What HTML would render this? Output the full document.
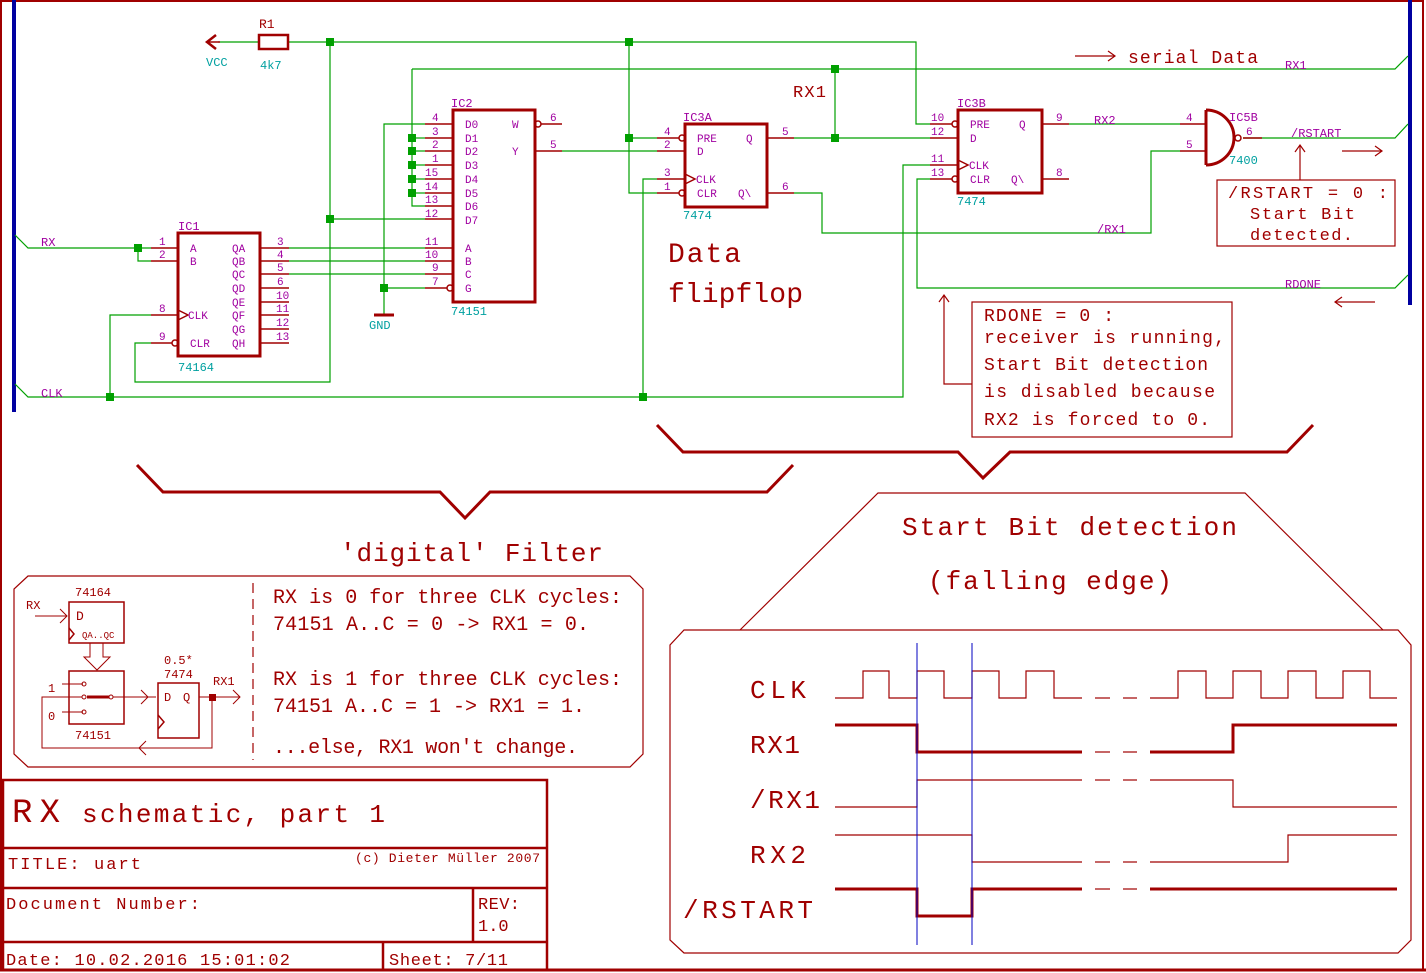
<!DOCTYPE html>
<html><head><meta charset="utf-8"><style>
html,body{margin:0;padding:0;background:#fff;}
svg{display:block;}
text{font-family:"Liberation Mono",monospace;}
.r{fill:#a00000}.m{fill:#a000a0}.t{fill:#00a0a0}
</style></head><body>
<svg width="1426" height="973" viewBox="0 0 1426 973" xmlns="http://www.w3.org/2000/svg">
<rect x="1" y="1" width="1422" height="969" fill="none" stroke="#a00000" stroke-width="2"/>
<line x1="0" y1="970" x2="1426" y2="970" stroke="#a00000" stroke-width="3"/>
<line x1="14" y1="0" x2="14" y2="412" stroke="#0000a0" stroke-width="4"/>
<line x1="1410" y1="0" x2="1410" y2="305" stroke="#0000a0" stroke-width="4"/>

<g stroke="#00a000" stroke-width="1.2" fill="none">
<polyline points="218,42 258,42"/>
<polyline points="288,42 916,42 916,124 930,124"/>
<polyline points="330,42 330,382 135,382 135,343 151,343"/>
<polyline points="330,219 425,219"/>
<polyline points="629,42 629,193 657,193"/>
<polyline points="629,138 657,138"/>
<polyline points="412,69 1395,69 1408,56"/>
<polyline points="412,69 412,206 425,206"/>
<polyline points="412,138 425,138"/><polyline points="412,151 425,151"/><polyline points="412,165 425,165"/><polyline points="412,179 425,179"/><polyline points="412,193 425,193"/>
<polyline points="425,124 384,124 384,315"/>
<polyline points="384,288 425,288"/>
<polyline points="835,69 835,138"/>
<polyline points="15,235 28,248 151,248"/>
<polyline points="138,248 138,261 151,261"/>
<polyline points="289,248 425,248"/><polyline points="289,261 425,261"/><polyline points="289,274 425,274"/>
<polyline points="15,384 28,397 903,397 903,165 930,165"/>
<polyline points="110,397 110,315 151,315"/>
<polyline points="643,397 643,179 657,179"/>
<polyline points="562,151 657,151"/>
<polyline points="794,138 930,138"/>
<polyline points="930,179 917,179 917,288 1395,288 1408,275"/>
<polyline points="1069,124 1180,124"/>
<polyline points="1180,151 1151,151 1151,233 822,233 822,193 794,193"/>
<polyline points="1243,138 1395,138 1408,124"/>
</g>
<g fill="#00a000">
<rect x="326" y="38" width="8" height="8"/><rect x="625" y="38" width="8" height="8"/>
<rect x="326" y="215" width="8" height="8"/><rect x="831" y="65" width="8" height="8"/>
<rect x="831" y="134" width="8" height="8"/><rect x="625" y="134" width="8" height="8"/>
<rect x="408" y="134" width="8" height="8"/><rect x="408" y="147" width="8" height="8"/><rect x="408" y="161" width="8" height="8"/><rect x="408" y="175" width="8" height="8"/><rect x="408" y="189" width="8" height="8"/>
<rect x="380" y="284" width="8" height="8"/><rect x="134" y="244" width="8" height="8"/>
<rect x="106" y="393" width="8" height="8"/><rect x="639" y="393" width="8" height="8"/>
</g>

<g stroke="#a00000" fill="none">
<polyline points="216,35 207,42 216,49" stroke-width="2.5"/>
<line x1="207" y1="42" x2="220" y2="42" stroke-width="1.5"/>
<rect x="259" y="35" width="29" height="14" stroke-width="2.5"/>
<rect x="178" y="233" width="82" height="123" stroke-width="3"/>
<rect x="453" y="110" width="82" height="192" stroke-width="3"/>
<rect x="685" y="124" width="82" height="83" stroke-width="3"/>
<rect x="958" y="110" width="84" height="83" stroke-width="3"/>
<path d="M1206,110 L1206,165 M1206,110 A28,27.5 0 0 1 1206,165" stroke-width="3"/>
<line x1="374" y1="315" x2="394" y2="315" stroke-width="3"/>
<g stroke-width="1.5">
<line x1="151" y1="248" x2="178" y2="248"/><line x1="151" y1="261" x2="178" y2="261"/><line x1="151" y1="315" x2="178" y2="315"/><line x1="151" y1="343" x2="172" y2="343"/>
<line x1="260" y1="248" x2="289" y2="248"/><line x1="260" y1="261" x2="289" y2="261"/><line x1="260" y1="274" x2="289" y2="274"/><line x1="260" y1="288" x2="289" y2="288"/><line x1="260" y1="302" x2="289" y2="302"/><line x1="260" y1="315" x2="289" y2="315"/><line x1="260" y1="329" x2="289" y2="329"/><line x1="260" y1="343" x2="289" y2="343"/>
<line x1="425" y1="124" x2="453" y2="124"/><line x1="425" y1="138" x2="453" y2="138"/><line x1="425" y1="151" x2="453" y2="151"/><line x1="425" y1="165" x2="453" y2="165"/><line x1="425" y1="179" x2="453" y2="179"/><line x1="425" y1="193" x2="453" y2="193"/><line x1="425" y1="206" x2="453" y2="206"/><line x1="425" y1="219" x2="453" y2="219"/>
<line x1="425" y1="248" x2="453" y2="248"/><line x1="425" y1="261" x2="453" y2="261"/><line x1="425" y1="274" x2="453" y2="274"/><line x1="425" y1="288" x2="447" y2="288"/>
<line x1="541" y1="124" x2="562" y2="124"/><line x1="535" y1="151" x2="562" y2="151"/>
<line x1="657" y1="138" x2="679" y2="138"/><line x1="657" y1="151" x2="685" y2="151"/><line x1="657" y1="179" x2="685" y2="179"/><line x1="657" y1="193" x2="679" y2="193"/>
<line x1="767" y1="138" x2="794" y2="138"/><line x1="767" y1="193" x2="794" y2="193"/>
<line x1="930" y1="124" x2="952" y2="124"/><line x1="930" y1="138" x2="958" y2="138"/><line x1="930" y1="165" x2="958" y2="165"/><line x1="930" y1="179" x2="952" y2="179"/>
<line x1="1042" y1="124" x2="1069" y2="124"/><line x1="1042" y1="179" x2="1069" y2="179"/>
<line x1="1180" y1="124" x2="1206" y2="124"/><line x1="1180" y1="151" x2="1206" y2="151"/><line x1="1243" y1="138" x2="1262" y2="138"/>
<circle cx="175" cy="343" r="3"/><circle cx="450" cy="288" r="3"/><circle cx="538" cy="124" r="3"/>
<circle cx="682" cy="138" r="3"/><circle cx="682" cy="193" r="3"/><circle cx="955" cy="124" r="3"/><circle cx="955" cy="179" r="3"/><circle cx="1238" cy="138" r="3"/>
<polyline points="178,310 188,315 178,320"/><polyline points="685,174 695,179 685,184"/><polyline points="958,160 968,165 958,170"/>
</g>
<g stroke-width="1.2">
<line x1="1075" y1="56" x2="1115" y2="56"/><polyline points="1108,51 1115,56 1108,61"/>
<line x1="1342" y1="151" x2="1382" y2="151"/><polyline points="1375,146 1382,151 1375,156"/>
<line x1="1335" y1="302" x2="1375" y2="302"/><polyline points="1342,297 1335,302 1342,307"/>
<line x1="1300" y1="180" x2="1300" y2="145"/><polyline points="1295,152 1300,145 1305,152"/>
<rect x="1217" y="180" width="178" height="66"/>
<rect x="972" y="302" width="260" height="135"/>
<polyline points="972,384 944,384 944,295"/><polyline points="939,302 944,295 949,302"/>
</g>
<polyline points="137,465 163,492 440,492 465,518 490,492 767,492 793,465" stroke-width="3"/>
<polyline points="657,425 683,452 958,452 983,478 1010,452 1287,452 1313,425" stroke-width="3"/>
<polyline points="740,630 878,493 1245,493 1383,630" stroke-width="1.2"/>
<polygon points="684,630 1398,630 1411,645 1411,940 1398,953 684,953 670,940 670,645" stroke-width="1.2"/>
<polygon points="28,576 630,576 643,589 643,754 630,767 28,767 14,754 14,589" stroke-width="1.2"/>
<line x1="253" y1="583" x2="253" y2="760" stroke-width="1.2" stroke-dasharray="10,6"/>
</g>

<g font-size="12">
<text x="259" y="28" class="r" font-size="13">R1</text>
<text x="206" y="66" class="t">VCC</text><text x="260" y="69" class="t">4k7</text>
<text x="178" y="230" class="m">IC1</text><text x="178" y="371" class="t">74164</text>
<text x="451" y="107" class="m">IC2</text><text x="451" y="315" class="t">74151</text>
<text x="683" y="121" class="m">IC3A</text><text x="683" y="219" class="t">7474</text>
<text x="957" y="107" class="m">IC3B</text><text x="957" y="205" class="t">7474</text>
<text x="1229" y="121" class="m">IC5B</text><text x="1229" y="164" class="t">7400</text>
<text x="369" y="329" class="t">GND</text>
</g>
<g font-size="11" class="m">
<text x="190" y="252">A</text><text x="190" y="265">B</text><text x="188" y="319">CLK</text><text x="190" y="347">CLR</text>
<text x="232" y="252">QA</text><text x="232" y="265">QB</text><text x="232" y="278">QC</text><text x="232" y="292">QD</text><text x="232" y="306">QE</text><text x="232" y="319">QF</text><text x="232" y="333">QG</text><text x="232" y="347">QH</text>
<text x="159" y="245">1</text><text x="159" y="258">2</text><text x="159" y="312">8</text><text x="159" y="340">9</text>
<text x="277" y="245">3</text><text x="277" y="258">4</text><text x="277" y="271">5</text><text x="277" y="285">6</text><text x="276" y="299">10</text><text x="276" y="312">11</text><text x="276" y="326">12</text><text x="276" y="340">13</text>
<text x="465" y="128">D0</text><text x="465" y="142">D1</text><text x="465" y="155">D2</text><text x="465" y="169">D3</text><text x="465" y="183">D4</text><text x="465" y="197">D5</text><text x="465" y="210">D6</text><text x="465" y="224">D7</text>
<text x="465" y="252">A</text><text x="465" y="265">B</text><text x="465" y="278">C</text><text x="465" y="292">G</text>
<text x="512" y="128">W</text><text x="512" y="155">Y</text>
<text x="432" y="121">4</text><text x="432" y="135">3</text><text x="432" y="148">2</text><text x="432" y="162">1</text><text x="425" y="176">15</text><text x="425" y="190">14</text><text x="425" y="203">13</text><text x="425" y="217">12</text>
<text x="425" y="245">11</text><text x="425" y="258">10</text><text x="432" y="271">9</text><text x="432" y="285">7</text>
<text x="550" y="121">6</text><text x="550" y="148">5</text>
<text x="697" y="142">PRE</text><text x="697" y="155">D</text><text x="696" y="183">CLK</text><text x="697" y="197">CLR</text><text x="746" y="142">Q</text><text x="738" y="197">Q\</text>
<text x="664" y="135">4</text><text x="664" y="148">2</text><text x="664" y="176">3</text><text x="664" y="190">1</text><text x="782" y="135">5</text><text x="782" y="190">6</text>
<text x="970" y="128">PRE</text><text x="970" y="142">D</text><text x="969" y="169">CLK</text><text x="970" y="183">CLR</text><text x="1019" y="128">Q</text><text x="1011" y="183">Q\</text>
<text x="931" y="121">10</text><text x="931" y="135">12</text><text x="931" y="162">11</text><text x="931" y="176">13</text><text x="1056" y="121">9</text><text x="1056" y="176">8</text>
<text x="1186" y="121">4</text><text x="1186" y="148">5</text><text x="1246" y="135">6</text>
<text x="41" y="246" font-size="12">RX</text><text x="41" y="397" font-size="12">CLK</text>
<text x="1094" y="124" font-size="12">RX2</text><text x="1291" y="137" font-size="12">/RSTART</text><text x="1097" y="233" font-size="12">/RX1</text>
<text x="1285" y="69" font-size="12">RX1</text><text x="1285" y="288" font-size="12">RDONE</text>
</g>

<g class="r">
<text x="793" y="97" font-size="17" textLength="33">RX1</text>
<text x="1128" y="63" font-size="18" textLength="130">serial Data</text>
<text x="1228" y="198" font-size="17" textLength="160">/RSTART = 0 :</text>
<text x="1250" y="219" font-size="17" textLength="105">Start Bit</text>
<text x="1250" y="240" font-size="17" textLength="103">detected.</text>
<text x="984" y="321" font-size="18" textLength="130">RDONE = 0 :</text>
<text x="984" y="343" font-size="18" textLength="241">receiver is running,</text>
<text x="984" y="370" font-size="18" textLength="224">Start Bit detection</text>
<text x="984" y="397" font-size="18" textLength="231">is disabled because</text>
<text x="984" y="425" font-size="18" textLength="226">RX2 is forced to 0.</text>
<text x="668" y="262" font-size="28" textLength="73">Data</text>
<text x="668" y="302" font-size="28" textLength="135">flipflop</text>
<text x="340" y="561" font-size="26" textLength="263">'digital' Filter</text>
<text x="902" y="535" font-size="26" textLength="335">Start Bit detection</text>
<text x="928" y="589" font-size="26" textLength="244">(falling edge)</text>
<g font-size="20">
<text x="273" y="603" textLength="349">RX is 0 for three CLK cycles:</text>
<text x="273" y="630" textLength="316">74151 A..C = 0 -&gt; RX1 = 0.</text>
<text x="273" y="685" textLength="349">RX is 1 for three CLK cycles:</text>
<text x="273" y="712" textLength="312">74151 A..C = 1 -&gt; RX1 = 1.</text>
<text x="273" y="753" textLength="305">...else, RX1 won't change.</text>
</g>
<g font-size="26">
<text x="750" y="698" textLength="56">CLK</text><text x="750" y="753" textLength="50">RX1</text><text x="750" y="808" textLength="70">/RX1</text><text x="750" y="863" textLength="56">RX2</text><text x="683" y="918" textLength="130">/RSTART</text>
</g>
</g>

<g fill="none" stroke="#a00000">
<polyline stroke-width="1.2" points="835,698 863,698 863,671 889,671 889,698 917,698 917,671 944,671 944,698 972,698 972,671 999,671 999,698 1026,698 1026,671 1054,671 1054,698 1082,698"/>
<polyline stroke-width="1.2" points="1150,698 1178,698 1178,671 1206,671 1206,698 1233,698 1233,671 1261,671 1261,698 1288,698 1288,671 1316,671 1316,698 1343,698 1343,671 1370,671 1370,698 1397,698"/>
<polyline stroke-width="3" points="835,725 917,725 917,752 1082,752"/>
<polyline stroke-width="3" points="1150,752 1233,752 1233,725 1397,725"/>
<polyline stroke-width="1.2" points="835,807 917,807 917,780 1082,780"/>
<polyline stroke-width="1.2" points="1150,780 1233,780 1233,807 1397,807"/>
<polyline stroke-width="1.2" points="835,835 972,835 972,862 1082,862"/>
<polyline stroke-width="1.2" points="1150,862 1288,862 1288,835 1397,835"/>
<polyline stroke-width="3" points="835,889 917,889 917,916 972,916 972,889 1082,889"/>
<line x1="1150" y1="889" x2="1397" y2="889" stroke-width="3"/>
<g stroke-width="1.2">
<line x1="1095" y1="698" x2="1110" y2="698"/><line x1="1123" y1="698" x2="1137" y2="698"/>
<line x1="1095" y1="752" x2="1110" y2="752"/><line x1="1123" y1="752" x2="1137" y2="752"/>
<line x1="1095" y1="780" x2="1110" y2="780"/><line x1="1123" y1="780" x2="1137" y2="780"/>
<line x1="1095" y1="862" x2="1110" y2="862"/><line x1="1123" y1="862" x2="1137" y2="862"/>
<line x1="1095" y1="889" x2="1110" y2="889"/><line x1="1123" y1="889" x2="1137" y2="889"/>
</g>
</g>
<line x1="917" y1="643" x2="917" y2="945" stroke="#0000c0" stroke-width="1"/>
<line x1="972" y1="643" x2="972" y2="945" stroke="#0000c0" stroke-width="1"/>

<g fill="none" stroke="#a00000" stroke-width="1.5">
<rect x="69" y="602" width="55" height="41"/>
<rect x="69" y="671" width="55" height="53"/>
<rect x="158" y="683" width="41" height="55"/>
<polyline points="69,628 74,634 69,640"/><polyline points="158,715 164,722 158,729"/>
<line x1="35" y1="616" x2="67" y2="616" stroke-width="1"/><polyline points="60,609 67,616 60,623" stroke-width="1"/>
<polygon points="90,643 103,643 103,657 110,657 97,670 84,657 90,657" stroke-width="1"/>
<g stroke-width="1">
<line x1="62" y1="684" x2="83" y2="684"/><circle cx="84" cy="684" r="2"/>
<line x1="62" y1="712" x2="83" y2="712"/><circle cx="84" cy="712" r="2"/>
<circle cx="84" cy="697" r="2"/><circle cx="111" cy="697" r="2"/>
<line x1="113" y1="697" x2="156" y2="697"/><polyline points="141,690 148,697 141,704"/>
<line x1="199" y1="697" x2="240" y2="697"/><polyline points="233,690 240,697 233,704"/>
<polyline points="212,697 212,748 42,748 42,697 82,697"/><polyline points="146,741 139,748 146,755"/>
</g>
<line x1="87" y1="697" x2="109" y2="697" stroke-width="3"/>
</g>
<rect x="209" y="694" width="7" height="7" fill="#a00000"/>
<g class="r" font-size="12">
<text x="75" y="596">74164</text><text x="26" y="609">RX</text><text x="76" y="620" font-size="13">D</text><text x="82" y="638" font-size="9">QA..QC</text>
<text x="48" y="692">1</text><text x="48" y="720">0</text><text x="75" y="739">74151</text>
<text x="164" y="664">0.5*</text><text x="164" y="678">7474</text><text x="213" y="685">RX1</text>
<text x="164" y="701">D</text><text x="183" y="701">Q</text>
</g>

<g fill="none" stroke="#a00000" stroke-width="2.5">
<rect x="3" y="780" width="544" height="190"/>
<line x1="3" y1="848" x2="547" y2="848"/><line x1="3" y1="888" x2="547" y2="888"/><line x1="3" y1="942" x2="547" y2="942"/>
<line x1="473" y1="888" x2="473" y2="942"/><line x1="383" y1="942" x2="383" y2="970"/>
</g>
<g class="r">
<text x="12" y="822" font-size="34" textLength="48">RX</text><text x="82" y="822" font-size="26" textLength="303">schematic, part 1</text>
<text x="8" y="869" font-size="17" textLength="133">TITLE: uart</text>
<text x="355" y="862" font-size="13" textLength="185">(c) Dieter Müller 2007</text>
<text x="6" y="909" font-size="17" textLength="194">Document Number:</text>
<text x="478" y="909" font-size="17" textLength="42">REV:</text><text x="478" y="931" font-size="17">1.0</text>
<text x="6" y="965" font-size="17" textLength="284">Date: 10.02.2016 15:01:02</text>
<text x="389" y="965" font-size="17" textLength="119">Sheet: 7/11</text>
</g>
</svg>
</body></html>
